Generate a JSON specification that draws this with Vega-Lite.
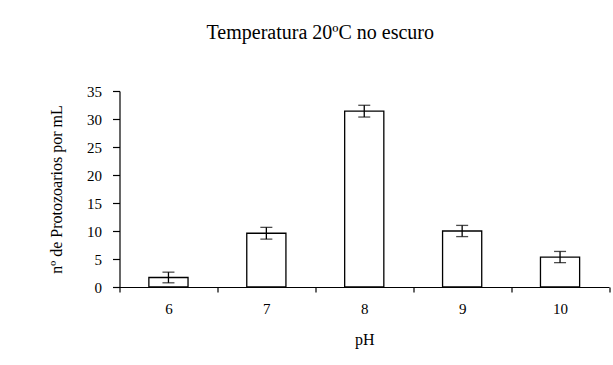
{
  "$schema": "https://vega.github.io/schema/vega-lite/v6.json",
  "autosize": "none",
  "width": 489.5,
  "height": 196,
  "padding": {"left": 119.5, "top": 91, "right": 4, "bottom": 78},
  "background": "white",
  "config": {
    "font": "Liberation Serif",
    "view": {"stroke": null},
    "axis": {"domainColor": "#000", "tickColor": "#000", "labelColor": "#000", "titleColor": "#000", "grid": false, "domainWidth": 1.2, "tickWidth": 1.2, "labelFont": "Liberation Serif", "titleFont": "Liberation Serif", "titleFontWeight": "normal"}
  },
  "title": {"text": "Temperatura 20ºC no escuro", "fontSize": 20, "fontWeight": "normal", "font": "Liberation Serif", "color": "#000", "anchor": "middle", "frame": "group", "baseline": "alphabetic", "offset": 25, "dx": -44},
  "data": {"values": [
    {"pH": "6", "protozoarios": 1.7, "erro": 0.95},
    {"pH": "7", "protozoarios": 9.6, "erro": 1.05},
    {"pH": "8", "protozoarios": 31.4, "erro": 1.05},
    {"pH": "9", "protozoarios": 10.0, "erro": 1.0},
    {"pH": "10", "protozoarios": 5.35, "erro": 1.0}
  ]},
  "encoding": {
    "x": {"field": "pH", "type": "ordinal", "sort": null,
      "scale": {"paddingInner": 0, "paddingOuter": 0},
      "axis": {"title": "pH", "labelAngle": 0, "labelFontSize": 15, "titleFontSize": 16, "tickBand": "extent", "tickSize": 5, "labelPadding": 9, "titlePadding": 15}},
    "y": {"field": "protozoarios", "type": "quantitative",
      "scale": {"domain": [0, 35], "nice": false},
      "axis": {"title": "nº de Protozoarios por mL", "values": [0, 5, 10, 15, 20, 25, 30, 35], "labelFontSize": 15, "titleFontSize": 16, "tickSize": 7, "labelPadding": 11, "titleAngle": 270, "titleX": -58, "titleY": 98, "titleBaseline": "alphabetic", "titleAlign": "center"}}
  },
  "layer": [
    {"mark": {"type": "bar", "fill": "white", "stroke": "#000", "strokeWidth": 1.3, "width": {"band": 0.4}}},
    {"mark": {"type": "errorbar", "color": "#000", "thickness": 1.3, "ticks": {"size": 12, "thickness": 1.3, "color": "#000"}},
      "encoding": {"yError": {"field": "erro"}}}
  ]
}
